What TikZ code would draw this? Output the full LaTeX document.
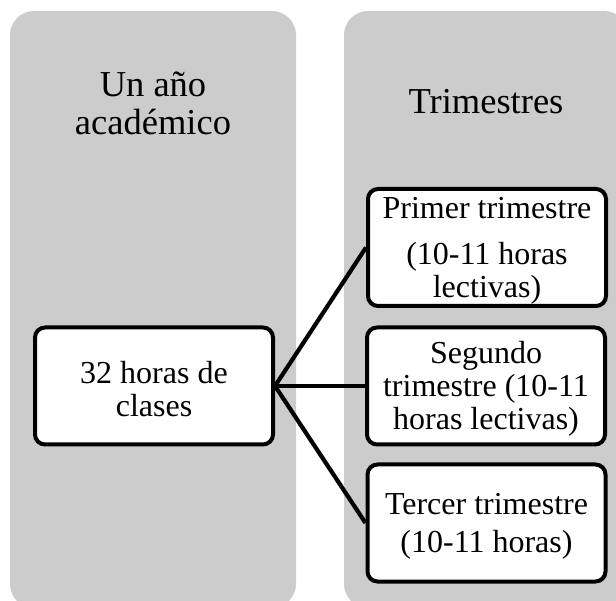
\documentclass[tikz,border=0pt]{standalone}
\usepackage{fontspec}
\setmainfont{Liberation Serif}
\definecolor{colgrey}{HTML}{CCCCCC}
\newcommand{\topstrut}{\rule{0pt}{28.5pt}}
\begin{document}
\begin{tikzpicture}[x=1pt,y=-1pt,
  col/.style={fill=colgrey, rounded corners=24pt},
  box/.style={draw=black, line width=4pt, fill=white, rounded corners=10pt,
    minimum width=238pt, minimum height=117pt, inner sep=0pt, align=center,
    font=\fontsize{32}{33}\selectfont},
  title/.style={align=center, font=\fontsize{36.5}{38}\selectfont},
  link/.style={line width=4.2pt}]
\useasboundingbox (0,0) rectangle (616,601);
\clip (0,0) rectangle (616,601);
\fill[col] (10,11) rectangle (296,608);
\fill[col] (344,11) rectangle (628,608);
\node[title] (t1) at (153,103) {Un año\\académico};
\node[title] (t2) at (486,101.5) {Trimestres};
\node[box] (c) at (154,386) {\topstrut 32 horas de\\clases};
\node[box] (p1) at (487,247.5) {\topstrut Primer trimestre\\[13pt](10-11 horas\\lectivas)};
\node[box] (p2) at (486,386) {\topstrut Segundo\\trimestre (10-11\\horas lectivas)};
\node[box] (p3) at (486.5,523) {\topstrut Tercer trimestre\\[5pt](10-11 horas)};
\draw[link] (c.east) -- (p1.west);
\draw[link] (c.east) -- (p2.west);
\draw[link] (c.east) -- (p3.west);
\end{tikzpicture}
\end{document}
